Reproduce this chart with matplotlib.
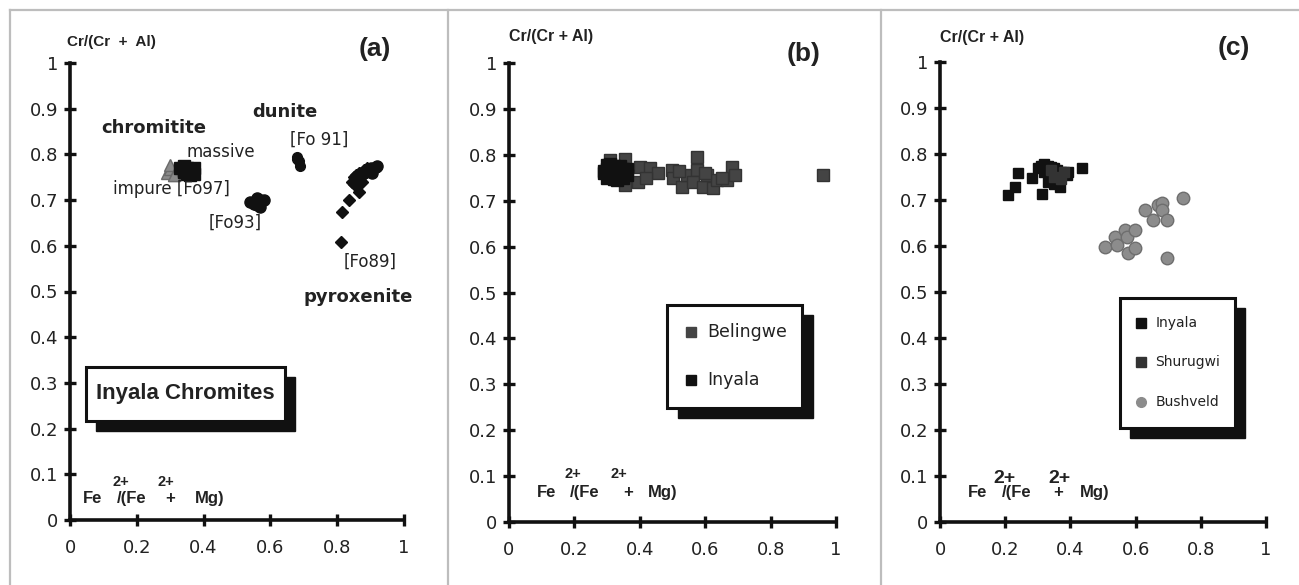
import matplotlib
matplotlib.use("Agg")
import matplotlib.pyplot as plt
from matplotlib.patches import Rectangle
from matplotlib.lines import Line2D

# ---------------- data ----------------
ticks_x = [0, 0.2, 0.4, 0.6, 0.8, 1]
ticks_x_labels = ["0", "0.2", "0.4", "0.6", "0.8", "1"]
ticks_y = [0, 0.1, 0.2, 0.3, 0.4, 0.5, 0.6, 0.7, 0.8, 0.9, 1]
ticks_y_labels = ["0", "0.1", "0.2", "0.3", "0.4", "0.5", "0.6", "0.7", "0.8", "0.9", "1"]

# (a) Inyala chromites
impure_x = [0.29, 0.30, 0.31, 0.32, 0.30, 0.33, 0.31]
impure_y = [0.760, 0.768, 0.756, 0.764, 0.776, 0.760, 0.755]
massive_x = [0.33, 0.34, 0.35, 0.36, 0.37, 0.35, 0.36, 0.34, 0.37]
massive_y = [0.770, 0.775, 0.770, 0.765, 0.770, 0.758, 0.755, 0.762, 0.758]
fo93_x = [0.54, 0.55, 0.56, 0.57, 0.58, 0.57, 0.56]
fo93_y = [0.695, 0.692, 0.690, 0.700, 0.700, 0.685, 0.705]
fo91_x = [0.680, 0.685, 0.690, 0.680]
fo91_y = [0.795, 0.785, 0.775, 0.790]
pyx_dia_x = [0.81, 0.815, 0.835, 0.865, 0.85, 0.86, 0.87, 0.855, 0.845, 0.87,
             0.88, 0.86, 0.875, 0.85, 0.865, 0.89]
pyx_dia_y = [0.608, 0.674, 0.700, 0.718, 0.735, 0.745, 0.750, 0.755, 0.740, 0.760,
             0.765, 0.730, 0.740, 0.750, 0.760, 0.770]
pyx_cir_x = [0.89, 0.90, 0.915, 0.92, 0.88, 0.905]
pyx_cir_y = [0.765, 0.770, 0.772, 0.775, 0.760, 0.760]

# (b) Belingwe vs Inyala
bel_x = [0.309, 0.355, 0.355, 0.40, 0.394, 0.43, 0.456, 0.498, 0.50, 0.529, 0.545,
         0.575, 0.575, 0.563, 0.593, 0.605, 0.624, 0.636, 0.667, 0.682, 0.691, 0.96,
         0.42, 0.52, 0.60, 0.65]
bel_y = [0.789, 0.791, 0.734, 0.773, 0.740, 0.771, 0.760, 0.767, 0.749, 0.730, 0.756,
         0.795, 0.767, 0.741, 0.730, 0.756, 0.728, 0.745, 0.745, 0.773, 0.756, 0.756,
         0.750, 0.765, 0.760, 0.750]
inb_x = [0.29, 0.30, 0.31, 0.32, 0.33, 0.34, 0.35, 0.36, 0.30, 0.31, 0.32, 0.33,
         0.34, 0.35, 0.29, 0.30, 0.31, 0.32, 0.33, 0.34, 0.36, 0.31, 0.33, 0.35]
inb_y = [0.760, 0.770, 0.765, 0.775, 0.770, 0.765, 0.760, 0.755, 0.750, 0.755, 0.748,
         0.752, 0.760, 0.770, 0.765, 0.778, 0.780, 0.760, 0.745, 0.775, 0.770, 0.762,
         0.768, 0.750]

# (c) Inyala, Shurugwi, Bushveld
inc_x = [0.209, 0.23, 0.24, 0.282, 0.313, 0.30, 0.31, 0.32, 0.33, 0.34, 0.35, 0.36,
         0.37, 0.38, 0.39, 0.368, 0.393, 0.436, 0.32, 0.34, 0.36, 0.33, 0.35]
inc_y = [0.711, 0.728, 0.759, 0.748, 0.713, 0.770, 0.775, 0.778, 0.775, 0.772, 0.770,
         0.765, 0.760, 0.758, 0.755, 0.728, 0.761, 0.769, 0.760, 0.755, 0.745, 0.740,
         0.735]
shu_x = [0.35, 0.37, 0.34, 0.38]
shu_y = [0.750, 0.745, 0.765, 0.760]
bus_x = [0.506, 0.537, 0.543, 0.567, 0.573, 0.577, 0.598, 0.598, 0.629, 0.653,
         0.669, 0.681, 0.681, 0.696, 0.696, 0.745]
bus_y = [0.598, 0.620, 0.602, 0.635, 0.620, 0.585, 0.635, 0.596, 0.678, 0.657,
         0.689, 0.693, 0.678, 0.657, 0.574, 0.704]

# ---------------- figure ----------------
fig = plt.figure(figsize=(12.99, 5.85), dpi=100)
W, H = 1299, 585

frame_col = "#bdbdbd"
def fline(x0, y0, x1, y1):
    fig.add_artist(Line2D([x0 / W, x1 / W], [1 - y0 / H, 1 - y1 / H],
                          color=frame_col, lw=1.6))
fline(10, 10, 1299, 10)
fline(10, 10, 10, 585)
fline(448, 10, 448, 585)
fline(881, 10, 881, 585)

FONT = "DejaVu Sans"
BOLD = "Liberation Sans"
tick_col = "#222222"

def make_axes(px_left, px_right, px_top, px_bottom):
    ax = fig.add_axes([px_left / W, 1 - px_bottom / H,
                       (px_right - px_left) / W, (px_bottom - px_top) / H])
    ax.set_xlim(0, 1)
    ax.set_ylim(0, 1)
    ax.patch.set_visible(False)
    for s in ("top", "right"):
        ax.spines[s].set_visible(False)
    for s in ("left", "bottom"):
        ax.spines[s].set_linewidth(2.6)
        ax.spines[s].set_color("#111111")
    ax.set_xticks(ticks_x)
    ax.set_xticklabels(ticks_x_labels)
    ax.set_yticks(ticks_y)
    ax.set_yticklabels(ticks_y_labels)
    ax.tick_params(direction="inout", length=9, width=2.4, color="#111111",
                   labelsize=13, labelcolor=tick_col)
    ax.tick_params(axis="x", pad=9)
    ax.tick_params(axis="y", pad=4)
    for lab in ax.get_xticklabels() + ax.get_yticklabels():
        lab.set_family(FONT)
    return ax

def shadow_box(ax, x0, y0, x1, y1, dx, dy):
    ax.add_patch(Rectangle((x0 + dx, y0 - dy), x1 - x0, y1 - y0, facecolor="#111111",
                           edgecolor="#111111", lw=1, transform=ax.transAxes,
                           clip_on=False, zorder=4))
    ax.add_patch(Rectangle((x0, y0), x1 - x0, y1 - y0, facecolor="white",
                           edgecolor="#111111", lw=2.2, transform=ax.transAxes,
                           clip_on=False, zorder=5))

def fe_label(ax, xs, y, ysup, size=12, supsize=10.5):
    # xs: axes-fraction x of "Fe", "/(Fe", "+", "Mg)", first "2+", second "2+"
    kw = dict(transform=ax.transAxes, fontsize=size, fontweight="bold",
              family=BOLD, color="#222222", va="baseline", ha="left")
    ax.text(xs[0], y, "Fe", **kw)
    ax.text(xs[1], y, "/(Fe", **kw)
    ax.text(xs[2], y, "+", **kw)
    ax.text(xs[3], y, "Mg)", **kw)
    kws = dict(kw)
    kws["fontsize"] = supsize
    ax.text(xs[4], ysup, "2+", **kws)
    ax.text(xs[5], ysup, "2+", **kws)

common = dict(clip_on=False, zorder=3, linestyle="none")

# ---------------- panel (a) ----------------
axa = make_axes(70, 404, 63, 520)
axa.plot(impure_x, impure_y, marker="^", ms=9, color="#8a8a8a", mec="#6a6a6a", **common)
axa.plot(massive_x, massive_y, marker="s", ms=9, color="#111111", **common)
axa.plot(fo93_x, fo93_y, marker="o", ms=8, color="#111111", **common)
axa.plot(fo91_x, fo91_y, marker="o", ms=7, color="#111111", **common)
axa.plot(pyx_dia_x, pyx_dia_y, marker="D", ms=6.5, color="#111111", **common)
axa.plot(pyx_cir_x, pyx_cir_y, marker="o", ms=8, color="#111111", **common)

t = dict(transform=axa.transAxes, color="#222222")
axa.text(-0.01, 1.045, "Cr/(Cr  +  Al)", fontsize=11, fontweight="bold", family=BOLD,
         ha="left", va="center", **t)
axa.text(0.913, 1.03, "(a)", fontsize=19, fontweight="bold", family=BOLD, ha="center",
         va="center", **t)
axa.text(0.095, 0.858, "chromitite", fontsize=13, fontweight="bold", family=FONT,
         ha="left", va="center", **t)
axa.text(0.35, 0.805, "massive", fontsize=12, family=FONT, ha="left", va="center", **t)
axa.text(0.128, 0.724, "impure [Fo97]", fontsize=12, family=FONT, ha="left", va="center", **t)
axa.text(0.416, 0.650, "[Fo93]", fontsize=12, family=FONT, ha="left", va="center", **t)
axa.text(0.545, 0.893, "dunite", fontsize=13, fontweight="bold", family=FONT,
         ha="left", va="center", **t)
axa.text(0.66, 0.832, "[Fo 91]", fontsize=12, family=FONT, ha="left", va="center", **t)
axa.text(0.82, 0.565, "[Fo89]", fontsize=12, family=FONT, ha="left", va="center", **t)
axa.text(0.70, 0.488, "pyroxenite", fontsize=13, fontweight="bold", family=FONT,
         ha="left", va="center", **t)

shadow_box(axa, 0.048, 0.217, 0.644, 0.335, 0.03, 0.022)
axa.text(0.346, 0.276, "Inyala Chromites", fontsize=16, fontweight="bold", family=BOLD,
         ha="center", va="center", zorder=6, **t)
fe_label(axa, [0.039, 0.141, 0.284, 0.374, 0.126, 0.262], 0.037, 0.074)

# ---------------- panel (b) ----------------
axb = make_axes(509, 836, 63, 522)
axb.plot(bel_x, bel_y, marker="s", ms=8, color="#444444", mec="#333333", **common)
axb.plot(inb_x, inb_y, marker="s", ms=8, color="#111111", **common)
tb = dict(transform=axb.transAxes, color="#222222")
axb.text(0.0, 1.057, "Cr/(Cr + Al)", fontsize=11.5, fontweight="bold", family=BOLD,
         ha="left", va="center", **tb)
axb.text(0.90, 1.02, "(b)", fontsize=19, fontweight="bold", family=BOLD, ha="center",
         va="center", **tb)
shadow_box(axb, 0.483, 0.248, 0.896, 0.473, 0.033, 0.022)
axb.plot([0.557], [0.414], marker="s", ms=7, color="#444444", transform=axb.transAxes,
         clip_on=False, zorder=6, linestyle="none")
axb.plot([0.557], [0.309], marker="s", ms=7, color="#111111", transform=axb.transAxes,
         clip_on=False, zorder=6, linestyle="none")
axb.text(0.606, 0.414, "Belingwe", fontsize=12.5, family=FONT, ha="left", va="center",
         zorder=6, **tb)
axb.text(0.606, 0.309, "Inyala", fontsize=12.5, family=FONT, ha="left", va="center",
         zorder=6, **tb)
fe_label(axb, [0.086, 0.187, 0.349, 0.425, 0.171, 0.309], 0.054, 0.096)

# ---------------- panel (c) ----------------
axc = make_axes(940, 1266, 62, 522)
axc.plot(inc_x, inc_y, marker="s", ms=7.5, color="#111111", **common)
axc.plot(shu_x, shu_y, marker="s", ms=7.5, color="#333333", **common)
axc.plot(bus_x, bus_y, marker="o", ms=9, color="#8c8c8c", mec="#6e6e6e", **common)
tc = dict(transform=axc.transAxes, color="#222222")
axc.text(0.0, 1.054, "Cr/(Cr + Al)", fontsize=11.5, fontweight="bold", family=BOLD,
         ha="left", va="center", **tc)
axc.text(0.90, 1.03, "(c)", fontsize=19, fontweight="bold", family=BOLD, ha="center",
         va="center", **tc)
shadow_box(axc, 0.552, 0.204, 0.905, 0.487, 0.031, 0.022)
axc.plot([0.617], [0.433], marker="s", ms=6.5, color="#111111", transform=axc.transAxes,
         clip_on=False, zorder=6, linestyle="none")
axc.plot([0.617], [0.348], marker="s", ms=6.5, color="#333333", transform=axc.transAxes,
         clip_on=False, zorder=6, linestyle="none")
axc.plot([0.617], [0.261], marker="o", ms=7, color="#8c8c8c", transform=axc.transAxes,
         clip_on=False, zorder=6, linestyle="none")
axc.text(0.66, 0.433, "Inyala", fontsize=10, family=FONT, ha="left", va="center",
         zorder=6, **tc)
axc.text(0.66, 0.348, "Shurugwi", fontsize=10, family=FONT, ha="left", va="center",
         zorder=6, **tc)
axc.text(0.66, 0.261, "Bushveld", fontsize=10, family=FONT, ha="left", va="center",
         zorder=6, **tc)
fe_label(axc, [0.086, 0.19, 0.347, 0.43, 0.163, 0.331], 0.054, 0.085, supsize=14)

fig.savefig("out.png", dpi=100, facecolor="white")
